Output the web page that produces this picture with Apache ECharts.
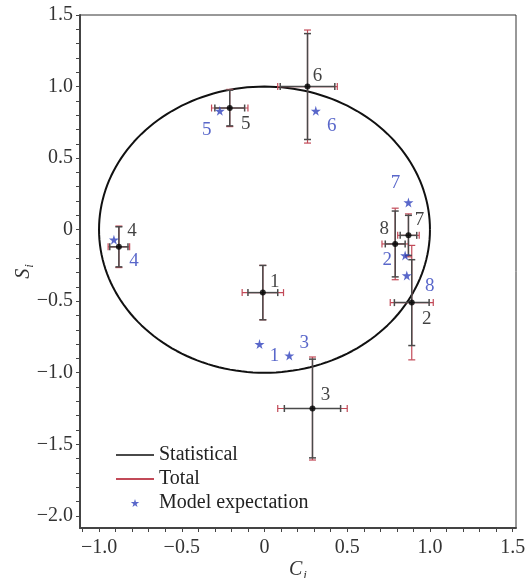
<!DOCTYPE html>
<html lang="en">
<head>
<meta charset="UTF-8">
<title>C_i vs S_i</title>
<script src="https://cdn.jsdelivr.net/npm/echarts@6/dist/echarts.min.js"></script>
<style>
  html, body { margin: 0; padding: 0; background: #fff; }
  #main { width: 530px; height: 578px; }
</style>
</head>
<body>
<div id="main"></div>
<script>
// measured points
var pointNames = ['1', '2', '3', '4', '5', '6', '7', '8'];
var cVals = [-0.01, 0.89, 0.29, -0.88, -0.21, 0.26, 0.87, 0.79];
var sVals = [-0.44, -0.51, -1.25, -0.12, 0.85, 1.00, -0.04, -0.10];
// half widths of the error bars
var cStat = [0.09, 0.105, 0.17, 0.055, 0.09, 0.165, 0.05, 0.06];
var cTot = [0.125, 0.13, 0.21, 0.065, 0.11, 0.18, 0.065, 0.08];
var sStat = [0.19, 0.30, 0.345, 0.14, 0.125, 0.37, 0.14, 0.23];
var sTot = [0.19, 0.40, 0.36, 0.145, 0.13, 0.395, 0.15, 0.25];
// model expectation
var modelC = [-0.03, 0.85, 0.15, -0.91, -0.27, 0.31, 0.87, 0.86];
var modelS = [-0.80, -0.18, -0.88, -0.07, 0.83, 0.83, 0.19, -0.32];
// tick labels
var xLabelVals = [-1.0, -0.5, 0, 0.5, 1.0, 1.5];
var yLabelVals = [-2.0, -1.5, -1.0, -0.5, 0, 0.5, 1.0, 1.5];

// label offsets (px)
var measOffset = [[12, -11], [15, 16], [13, -13], [13, -16], [16, 16], [10, -11], [11, -15], [-11, -15]];
var modelOffset = [[15, 12], [-18, 5], [15, -13], [20, 21], [-13, 19], [16, 15], [-13, -19], [23, 11]];

var FONT = 'Liberation Serif';
var RED = '#c24a58';
var GRAY = '#4a4a4a';
var BLUE = '#2f41bd';
var STAR = 'path://M50,0 L61,35 L98,35 L68,57 L79,91 L50,70 L21,91 L32,57 L2,35 L39,35 Z';

function minorTicks(from, to) {
  var out = [];
  for (var k = from; k <= to; k++) out.push(k / 10);
  return out;
}
function fmt(v) {
  if (Math.abs(v) < 1e-9) return '0';
  return (v < 0 ? '\u2212' : '') + Math.abs(v).toFixed(1);
}

// unit circle C^2 + S^2 = 1
var circle = [];
for (var a = 0; a <= 360; a += 2) {
  var r = a * Math.PI / 180;
  circle.push([Math.cos(r), Math.sin(r)]);
}

function errData(ex, ey) {
  return cVals.map(function (c, i) { return [c, sVals[i], ex[i], ey[i]]; });
}
function errRender(color, width) {
  return function (params, api) {
    var x = api.value(0), y = api.value(1), ex = api.value(2), ey = api.value(3);
    var l = api.coord([x - ex, y]), r = api.coord([x + ex, y]);
    var t = api.coord([x, y + ey]), b = api.coord([x, y - ey]);
    var h = 3.5;
    var st = { stroke: color, lineWidth: width };
    function seg(x1, y1, x2, y2) {
      return { type: 'line', shape: { x1: x1, y1: y1, x2: x2, y2: y2 }, style: st };
    }
    return {
      type: 'group',
      children: [
        seg(t[0], t[1], b[0], b[1]),
        seg(t[0] - h, t[1], t[0] + h, t[1]),
        seg(b[0] - h, b[1], b[0] + h, b[1]),
        seg(l[0], l[1], r[0], r[1]),
        seg(l[0], l[1] - h, l[0], l[1] + h),
        seg(r[0], r[1] - h, r[0], r[1] + h)
      ]
    };
  };
}

var chart = echarts.init(document.getElementById('main'));
var option = {
  animation: false,
  grid: {
    left: 80, top: 15, right: 14, bottom: 50,
    show: true, borderColor: '#333', borderWidth: 1,
    outerBoundsMode: 'none'
  },
  legend: {
    data: [
      { name: 'Statistical', itemStyle: { opacity: 0 } },
      { name: 'Total', itemStyle: { opacity: 0 } },
      { name: 'Model expectation' }
    ],
    orient: 'vertical',
    left: 110, top: 440,
    itemWidth: 38, itemHeight: 8, itemGap: 4,
    textStyle: { fontFamily: FONT, fontSize: 20, color: '#222' }
  },
  xAxis: {
    type: 'value', min: -1.115, max: 1.52,
    splitLine: { show: false },
    axisLine: { onZero: false, lineStyle: { color: '#444', width: 2 } },
    axisTick: { customValues: minorTicks(-11, 15), length: 4, lineStyle: { color: '#444' } },
    axisLabel: {
      customValues: xLabelVals, formatter: fmt, margin: 10,
      fontFamily: FONT, fontSize: 20, color: '#333'
    },
    name: '{v|C}{s|i}', nameLocation: 'middle', nameGap: 29, nameMoveOverlap: false,
    nameTextStyle: {
      rich: {
        v: { fontFamily: FONT, fontStyle: 'italic', fontSize: 20, color: '#333' },
        s: { fontFamily: FONT, fontStyle: 'italic', fontSize: 13, color: '#333', padding: [12, 0, 0, 1] }
      }
    }
  },
  yAxis: {
    type: 'value', min: -2.085, max: 1.5,
    splitLine: { show: false },
    axisLine: { onZero: false, lineStyle: { color: '#444', width: 2 } },
    axisTick: { customValues: minorTicks(-20, 15), length: 4, lineStyle: { color: '#444' } },
    axisLabel: {
      customValues: yLabelVals, formatter: fmt, margin: 7,
      fontFamily: FONT, fontSize: 20, color: '#333'
    },
    name: '{v|S}{s|i}', nameLocation: 'middle', nameGap: 44, nameMoveOverlap: false,
    nameTextStyle: {
      rich: {
        v: { fontFamily: FONT, fontStyle: 'italic', fontSize: 20, color: '#333' },
        s: { fontFamily: FONT, fontStyle: 'italic', fontSize: 13, color: '#333', padding: [12, 0, 0, 1] }
      }
    }
  },
  series: [
    {
      type: 'line', data: circle, showSymbol: false, silent: true,
      lineStyle: { color: '#111', width: 2 }, z: 1
    },
    {
      type: 'custom', name: 'TotalBars', data: errData(cTot, sTot),
      encode: { x: 0, y: 1 }, renderItem: errRender(RED, 1.2), z: 2, silent: true
    },
    {
      type: 'custom', name: 'StatBars', data: errData(cStat, sStat),
      encode: { x: 0, y: 1 }, renderItem: errRender(GRAY, 1.5), z: 3, silent: true
    },
    {
      type: 'scatter', name: 'Measured', z: 4,
      symbolSize: 6, itemStyle: { color: '#000' },
      data: cVals.map(function (c, i) {
        return { value: [c, sVals[i]], name: pointNames[i], label: { offset: measOffset[i] } };
      }),
      label: {
        show: true, position: 'inside', formatter: '{b}',
        fontFamily: FONT, fontSize: 19, color: '#111'
      }
    },
    {
      type: 'scatter', name: 'Model expectation', z: 5,
      symbol: STAR, symbolSize: 10, itemStyle: { color: BLUE },
      data: modelC.map(function (c, i) {
        return { value: [c, modelS[i]], name: pointNames[i], label: { offset: modelOffset[i] } };
      }),
      label: {
        show: true, position: 'inside', formatter: '{b}',
        fontFamily: FONT, fontSize: 19, color: BLUE
      }
    },
    { type: 'line', name: 'Statistical', data: [], symbol: 'none', lineStyle: { color: GRAY, width: 3 }, itemStyle: { color: GRAY } },
    { type: 'line', name: 'Total', data: [], symbol: 'none', lineStyle: { color: RED, width: 1.5 }, itemStyle: { color: RED } }
  ]
};
chart.setOption(option);
</script>
</body>
</html>
